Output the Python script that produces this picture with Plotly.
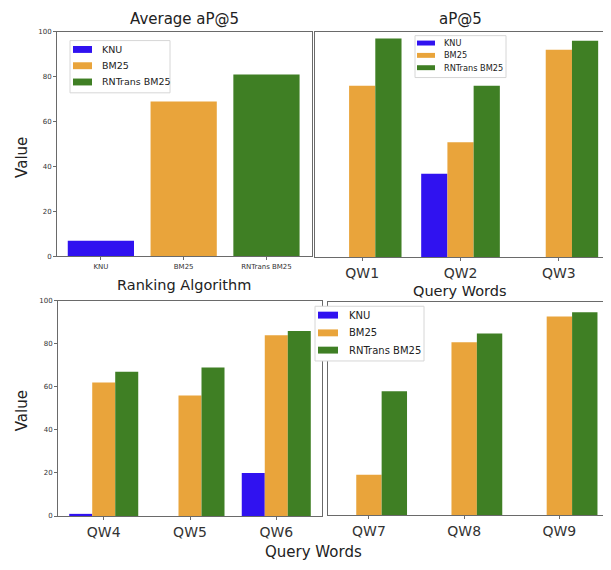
import plotly.graph_objects as go

# The page body has an 8px default margin, so the figure is drawn 8px in.
OFF = 8
W, H = 611 - OFF, 570 - OFF

algorithms = ["KNU", "BM25", "RNTrans BM25"]
avg_ap5 = [7, 69, 81]

qw_top = ["QW1", "QW2", "QW3"]
knu_top = [0, 37, 0]
bm25_top = [76, 51, 92]
rnt_top = [97, 76, 96]

qw_bl = ["QW4", "QW5", "QW6"]
knu_bl = [1, 0, 20]
bm25_bl = [62, 56, 84]
rnt_bl = [67, 69, 86]

qw_br = ["QW7", "QW8", "QW9"]
knu_br = [0, 0, 0]
bm25_br = [19, 81, 93]
rnt_br = [58, 85, 95]

y_ticks = [0, 20, 40, 60, 80, 100]

colors = ["#3012f0", "#e9a43b", "#3f7f24"]
FONT = "DejaVu Sans"


def px(x):
    return (x - OFF) / W


def py(y):
    return 1 - (y - OFF) / H


fig = go.Figure()

# Top-left: average
for i, alg in enumerate(algorithms):
    fig.add_trace(go.Bar(x=[alg], y=[avg_ap5[i]], width=0.8, offset=-0.4,
                         marker=dict(color=colors[i], line=dict(width=0)),
                         name=alg, showlegend=False, xaxis="x", yaxis="y"))

panels = [
    (qw_top, [knu_top, bm25_top, rnt_top], "x2", "y2"),
    (qw_bl, [knu_bl, bm25_bl, rnt_bl], "x3", "y3"),
    (qw_br, [knu_br, bm25_br, rnt_br], "x4", "y4"),
]
for cats, series, xa, ya in panels:
    for i, alg in enumerate(algorithms):
        fig.add_trace(go.Bar(x=cats, y=series[i], name=alg,
                             marker=dict(color=colors[i], line=dict(width=0)),
                             xaxis=xa, yaxis=ya, showlegend=False))

axis_common = dict(showline=True, mirror=True, linecolor="#6a6a6a", linewidth=1,
                   showgrid=False, zeroline=False, ticks="outside", ticklen=3,
                   tickcolor="#6a6a6a", fixedrange=True)

layout = dict(
    width=W, height=H, margin=dict(l=0, r=0, t=0, b=0),
    paper_bgcolor="white", plot_bgcolor="white",
    barmode="group", bargap=0.2, bargroupgap=0,
    font=dict(family=FONT, color="#222"),
    showlegend=False,
)

layout["xaxis"] = dict(axis_common, domain=[px(57), px(312)], range=[-0.53, 2.55],
                       anchor="y", tickfont=dict(size=7, color="#333"),
                       categoryorder="array", categoryarray=algorithms)
layout["yaxis"] = dict(axis_common, domain=[py(256), py(28)], range=[0, 100],
                       anchor="x", tickvals=y_ticks, tickfont=dict(size=7, color="#333"))
layout["xaxis2"] = dict(axis_common, domain=[px(315), px(608)], range=[-0.48, 2.5],
                        anchor="y2", tickfont=dict(size=14, color="#333"))
layout["yaxis2"] = dict(axis_common, domain=[py(256.7), py(28)], range=[0, 100],
                        anchor="x2", tickvals=y_ticks, showticklabels=False, ticks="")
layout["xaxis3"] = dict(axis_common, domain=[px(58), px(322)], range=[-0.53, 2.53],
                        anchor="y3", tickfont=dict(size=14, color="#333"))
layout["yaxis3"] = dict(axis_common, domain=[py(519.3), py(301)], range=[0, 100],
                        anchor="x3", tickvals=y_ticks, tickfont=dict(size=7, color="#333"))
layout["xaxis4"] = dict(axis_common, domain=[px(328), px(607)], range=[-0.43, 2.5],
                        anchor="y4", tickfont=dict(size=14, color="#333"))
layout["yaxis4"] = dict(axis_common, domain=[py(518.7), py(301.7)], range=[0, 100],
                        anchor="x4", tickvals=y_ticks, showticklabels=False, ticks="")

fig.update_layout(**layout)

# Legend boxes (matplotlib-style), one per panel that shows a legend
legend_boxes = [
    # box x0, x1, y0, y1, swatch x0, x1, swatch h, item ys, text x, font size
    dict(box=(70, 170, 37, 90), sw=(73, 92), sh=7, ys=(46, 62.5, 79), tx=100, fs=9.5),
    dict(box=(415, 506, 32, 74.5), sw=(417, 435), sh=5, ys=(39.5, 52, 64.5), tx=442, fs=8.2),
    dict(box=(315, 424, 306.5, 362), sw=(318, 338), sh=7, ys=(315.5, 333.5, 351), tx=347, fs=10),
]
for lb in legend_boxes:
    x0, x1, y0, y1 = lb["box"]
    fig.add_shape(type="rect", xref="paper", yref="paper", layer="above",
                  x0=px(x0), x1=px(x1), y0=py(y1), y1=py(y0),
                  fillcolor="white", line=dict(color="#d6d6d6", width=1))
    for i, alg in enumerate(algorithms):
        yc = lb["ys"][i]
        fig.add_shape(type="rect", xref="paper", yref="paper", layer="above",
                      x0=px(lb["sw"][0]), x1=px(lb["sw"][1]),
                      y0=py(yc + lb["sh"] / 2), y1=py(yc - lb["sh"] / 2),
                      fillcolor=colors[i], line=dict(width=0))
        fig.add_annotation(text=alg, x=px(lb["tx"]), y=py(yc), xref="paper", yref="paper",
                           xanchor="left", yanchor="middle", showarrow=False,
                           font=dict(size=lb["fs"], color="#222", family=FONT))

annotations = [
    dict(text="Average aP@5", x=px(184), y=py(15), size=15),
    dict(text="aP@5", x=px(460), y=py(15), size=15),
    dict(text="Ranking Algorithm", x=px(184), y=py(285), size=14.5),
    dict(text="Query Words", x=px(460), y=py(291), size=14.5),
    dict(text="Query Words", x=px(313), y=py(556), size=15),
]
for a in annotations:
    fig.add_annotation(text=a["text"], x=a["x"], y=a["y"], xref="paper", yref="paper",
                       xanchor="center", yanchor="middle", showarrow=False,
                       font=dict(size=a["size"], color="#222", family=FONT))
for yc in [155, 412]:
    fig.add_annotation(text="Value", x=px(22), y=py(yc), xref="paper", yref="paper",
                       xanchor="center", yanchor="middle", showarrow=False, textangle=-90,
                       font=dict(size=15, color="#222", family=FONT))

fig.write_html("out.html")
